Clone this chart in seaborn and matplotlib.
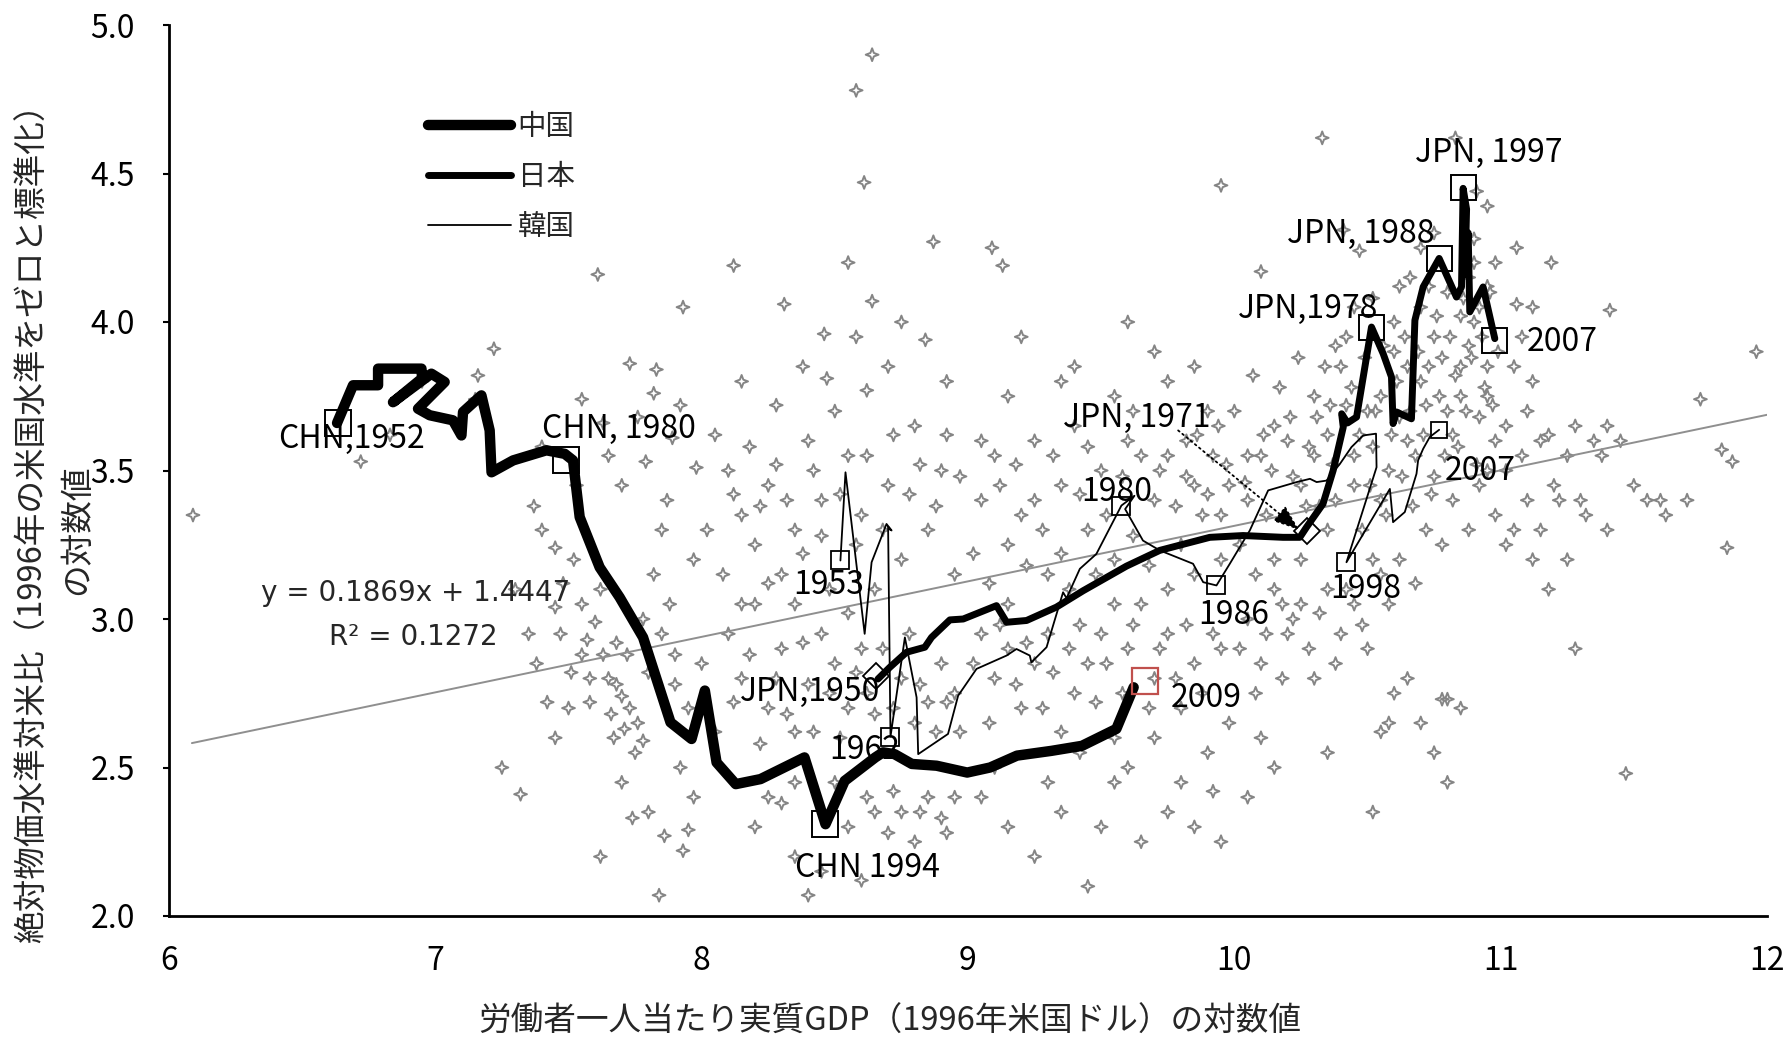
import numpy as np
import pandas as pd
import seaborn as sns
import matplotlib
matplotlib.use("Agg")
import matplotlib.pyplot as plt
from matplotlib.path import Path

sns.set_theme(style="white")
plt.rcParams['font.family'] = ['Noto Sans CJK JP', 'DejaVu Sans']

# ---- country paths (log real GDP per worker, log relative price level) ----
chn_x = [6.631, 6.691, 6.785, 6.785, 6.948, 6.950, 6.841, 6.985, 7.035, 6.935, 6.979,
         7.066, 7.098, 7.104, 7.173, 7.204, 7.211, 7.292, 7.417, 7.486, 7.517, 7.542,
         7.617, 7.692, 7.780, 7.883, 7.962, 8.012, 8.056, 8.128, 8.221, 8.386, 8.465,
         8.537, 8.652, 8.681, 8.724, 8.789, 8.882, 8.997, 9.083, 9.184, 9.313, 9.428,
         9.557, 9.622]
chn_y = [3.660, 3.787, 3.787, 3.843, 3.843, 3.810, 3.730, 3.826, 3.798, 3.708, 3.686,
         3.669, 3.618, 3.697, 3.753, 3.635, 3.494, 3.534, 3.568, 3.556, 3.534, 3.343,
         3.174, 3.073, 2.938, 2.652, 2.596, 2.759, 2.517, 2.444, 2.461, 2.534, 2.309,
         2.455, 2.534, 2.551, 2.545, 2.512, 2.506, 2.483, 2.500, 2.540, 2.556, 2.573,
         2.630, 2.770]

jpn_x = [8.662, 8.706, 8.769, 8.838, 8.863, 8.932, 8.982, 9.107, 9.145, 9.220, 9.332,
         9.432, 9.595, 9.720, 9.908, 10.033, 10.183, 10.246, 10.271, 10.333, 10.371,
         10.409, 10.403, 10.425, 10.459, 10.515, 10.559, 10.590, 10.596, 10.609, 10.665,
         10.678, 10.709, 10.769, 10.834, 10.853, 10.859, 10.872, 10.866, 10.878, 10.884,
         10.934, 10.978]
jpn_y = [2.798, 2.837, 2.888, 2.905, 2.938, 2.997, 3.000, 3.045, 2.989, 2.995, 3.040,
         3.095, 3.178, 3.231, 3.275, 3.281, 3.275, 3.275, 3.309, 3.388, 3.500,
         3.646, 3.691, 3.660, 3.680, 3.983, 3.893, 3.815, 3.658, 3.697, 3.674,
         4.006, 4.118, 4.214, 4.084, 4.118, 4.450, 4.380, 4.160, 4.300, 4.034,
         4.118, 3.944]

kor_x = [8.521, 8.540, 8.612, 8.638, 8.694, 8.713, 8.700, 8.709, 8.763, 8.807, 8.813,
         8.925, 8.963, 9.032, 9.145, 9.182, 9.232, 9.238, 9.295, 9.357, 9.370, 9.420,
         9.482, 9.576, 9.625, 9.590, 9.657, 9.720, 9.845, 9.883, 9.933, 9.983, 10.058,
         10.127, 10.234, 10.284, 10.309, 10.346, 10.397, 10.440, 10.484, 10.532, 10.534,
         10.421, 10.584, 10.596, 10.640, 10.684, 10.690, 10.709, 10.734, 10.769]
kor_y = [3.197, 3.494, 2.950, 3.191, 3.320, 3.298, 3.310, 2.604, 2.938, 2.736, 2.545,
         2.613, 2.742, 2.832, 2.877, 2.899, 2.877, 2.854, 2.905, 3.090, 3.070, 3.169,
         3.219, 3.382, 3.415, 3.370, 3.264, 3.231, 3.186, 3.124, 3.113, 3.186, 3.298,
         3.433, 3.461, 3.472, 3.461, 3.466, 3.523, 3.579, 3.618, 3.624, 3.511,
         3.191, 3.438, 3.326, 3.360, 3.489, 3.534, 3.573, 3.613, 3.637]

# ---- all-country observations, grouped by income band ----
low_x = [6.09, 6.72, 6.83, 7.22, 7.15, 7.16, 6.95, 7.40, 7.37, 7.45, 7.45, 7.47, 7.51,
         7.55, 7.60, 7.63, 7.57, 7.68, 7.70, 7.73, 7.76, 7.71, 7.78, 7.62, 7.74, 7.84,
         7.86, 7.93, 7.95, 7.25, 7.32, 7.73, 7.83, 7.82, 7.55, 7.63, 7.76, 7.70, 7.79,
         7.89, 7.98, 7.61, 7.93, 7.78, 7.85, 7.68, 7.58, 7.50, 7.66, 7.45, 7.90, 7.95,
         7.30, 7.35, 7.38, 7.42, 7.48, 7.52, 7.55, 7.58, 7.62, 7.65, 7.67, 7.72, 7.75,
         7.80, 7.82, 7.85, 7.88, 7.90, 7.92, 7.97, 7.97, 7.40, 7.53, 7.65, 7.87, 7.92,
         7.80, 7.70]
low_y = [3.35, 3.53, 3.62, 3.91, 3.74, 3.82, 3.80, 3.30, 3.38, 3.24, 3.04, 2.95, 2.82,
         3.05, 2.99, 2.88, 2.93, 2.78, 2.74, 2.70, 2.65, 2.63, 2.59, 2.20, 2.33, 2.07,
         2.27, 2.22, 2.29, 2.50, 2.41, 3.86, 3.84, 3.76, 3.74, 3.66, 3.68, 3.45, 3.53,
         3.61, 3.51, 4.16, 4.05, 3.00, 2.95, 2.92, 2.80, 2.70, 2.68, 2.60, 2.88, 2.70,
         3.10, 2.95, 2.85, 2.72, 3.12, 3.20, 2.88, 2.72, 3.10, 2.80, 2.60, 2.88, 2.55,
         2.82, 3.15, 3.30, 3.05, 2.78, 2.50, 3.20, 2.40, 3.58, 3.45, 3.55, 3.40, 3.72,
         2.35, 2.45]

mid_x = [8.00, 8.12, 8.31, 8.10, 8.15, 8.20, 8.25, 8.30, 8.35, 8.40, 8.45, 8.50, 8.55,
         8.60, 8.65, 8.70, 8.75, 8.80, 8.85, 8.90, 8.95, 8.62, 8.47, 8.58, 8.64, 8.84,
         8.46, 8.55, 8.61, 8.58, 8.64, 8.87, 9.09, 9.13, 8.10, 8.15, 8.20, 8.25, 8.30,
         8.35, 8.40, 8.45, 8.50, 8.55, 8.60, 8.65, 8.75, 8.80, 8.85, 8.90, 8.95, 8.20,
         8.25, 8.35, 8.45, 8.40, 8.55, 8.65, 8.70, 8.75, 8.80, 8.85, 8.90, 8.95, 8.60,
         8.35, 8.02, 8.05, 8.08, 8.12, 8.15, 8.18, 8.22, 8.25, 8.28, 8.32, 8.35, 8.38,
         8.42, 8.45, 8.48, 8.52, 8.55, 8.58, 8.62, 8.68, 8.72, 8.78, 8.82, 8.88, 8.92,
         8.97, 8.05, 8.12, 8.18, 8.22, 8.28, 8.32, 8.38, 8.42, 8.48, 8.52, 8.58, 8.62,
         8.68, 8.72, 8.78, 8.82, 8.88, 8.92, 8.97, 8.30, 8.50, 8.62, 8.72, 8.82, 8.92,
         8.15, 8.28, 8.38, 8.70, 8.92, 8.75]
mid_y = [2.85, 4.19, 4.06, 3.50, 3.35, 3.25, 3.45, 3.15, 3.30, 3.60, 3.40, 3.70, 3.55,
         3.35, 3.10, 3.45, 3.20, 3.65, 3.30, 3.50, 3.15, 3.77, 3.81, 3.95, 4.07, 3.94,
         3.96, 4.20, 4.47, 4.78, 4.90, 4.27, 4.25, 4.19, 2.95, 2.80, 3.05, 2.70, 2.90,
         2.62, 2.78, 2.95, 2.85, 2.70, 2.90, 2.68, 2.80, 2.65, 2.72, 2.85, 2.75, 2.30,
         2.40, 2.20, 2.15, 2.07, 2.30, 2.35, 2.28, 2.35, 2.25, 2.40, 2.33, 2.40, 2.12,
         2.45, 3.30, 3.62, 3.15, 3.42, 3.05, 3.58, 3.38, 3.12, 3.52, 3.40, 3.05, 3.22,
         3.50, 3.28, 3.10, 3.42, 3.02, 3.25, 3.55, 3.30, 3.62, 3.42, 3.52, 3.38, 3.62,
         3.48, 2.62, 2.72, 2.88, 2.58, 2.80, 2.68, 2.92, 2.62, 2.75, 2.60, 2.82, 2.75,
         2.90, 2.70, 2.95, 2.78, 2.62, 2.72, 2.62, 2.38, 2.45, 2.40, 2.42, 2.35, 2.28,
         3.80, 3.72, 3.85, 3.85, 3.80, 4.00]

upper_x = [9.05, 9.10, 9.15, 9.20, 9.25, 9.30, 9.35, 9.40, 9.45, 9.50, 9.55, 9.60, 9.65,
           9.70, 9.75, 9.80, 9.85, 9.90, 9.95, 9.05, 9.10, 9.15, 9.20, 9.25, 9.30, 9.40,
           9.45, 9.50, 9.55, 9.60, 9.70, 9.75, 9.80, 9.85, 9.90, 9.95, 9.05, 9.15, 9.25,
           9.35, 9.45, 9.50, 9.55, 9.65, 9.75, 9.85, 9.95, 9.95, 9.40, 9.20, 9.60, 9.75,
           9.02, 9.05, 9.08, 9.12, 9.15, 9.18, 9.22, 9.25, 9.28, 9.32, 9.35, 9.38, 9.42,
           9.45, 9.48, 9.52, 9.55, 9.58, 9.62, 9.65, 9.68, 9.72, 9.75, 9.78, 9.82, 9.85,
           9.88, 9.92, 9.95, 9.98, 9.02, 9.08, 9.12, 9.18, 9.22, 9.28, 9.32, 9.35, 9.38,
           9.42, 9.48, 9.52, 9.58, 9.62, 9.68, 9.72, 9.78, 9.82, 9.88, 9.92, 9.98, 9.10,
           9.30, 9.42, 9.60, 9.70, 9.80, 9.92, 9.35, 9.55, 9.70, 9.85, 9.15, 9.62,
           9.82, 9.86, 9.90, 9.94, 9.97]
upper_y = [3.40, 3.55, 3.25, 3.35, 3.60, 3.15, 3.45, 3.65, 3.30, 3.50, 3.20, 3.60, 3.05,
           3.40, 3.55, 3.25, 3.45, 3.70, 3.35, 2.95, 2.80, 2.90, 2.70, 2.85, 2.95, 2.75,
           2.85, 2.95, 2.60, 2.90, 2.80, 2.95, 2.70, 2.85, 2.55, 2.90, 2.40, 2.30, 2.20,
           2.35, 2.10, 2.30, 2.45, 2.25, 2.35, 2.30, 2.25, 4.46, 3.85, 3.95, 4.00, 3.80,
           3.22, 3.60, 3.12, 3.45, 3.05, 3.52, 3.18, 3.40, 3.30, 3.55, 3.22, 3.10, 3.42,
           3.58, 3.15, 3.35, 3.05, 3.48, 3.28, 3.55, 3.18, 3.50, 3.10, 3.38, 3.60, 3.15,
           3.35, 3.55, 3.20, 3.45, 2.85, 2.65, 2.98, 2.78, 2.92, 2.70, 2.82, 2.62, 2.90,
           2.98, 2.72, 2.85, 2.75, 2.98, 2.70, 2.90, 2.80, 2.98, 2.75, 2.95, 2.65, 2.50,
           2.45, 2.55, 2.50, 2.60, 2.45, 2.42, 3.80, 3.75, 3.90, 3.85, 3.75, 3.70,
           3.48, 3.62, 3.42, 3.65, 3.52]

high_x = [10.05, 10.10, 10.15, 10.20, 10.25, 10.30, 10.35, 10.40, 10.45, 10.50, 10.55,
          10.60, 10.65, 10.70, 10.75, 10.80, 10.85, 10.90, 10.95, 10.05, 10.10, 10.15,
          10.20, 10.25, 10.30, 10.35, 10.40, 10.45, 10.50, 10.55, 10.60, 10.65, 10.70,
          10.75, 10.80, 10.85, 10.10, 10.05, 10.33, 10.83, 10.41, 10.10, 10.47, 10.91,
          10.95, 10.62, 10.70, 10.88, 10.92,
          10.02, 10.05, 10.08, 10.12, 10.15, 10.18, 10.22, 10.25, 10.28, 10.32, 10.35,
          10.38, 10.42, 10.45, 10.48, 10.52, 10.55, 10.58, 10.62, 10.65, 10.68, 10.72,
          10.75, 10.78, 10.82, 10.85, 10.88, 10.92, 10.95, 10.98, 10.70, 10.80, 10.60,
          10.52, 10.85, 10.95, 10.90, 10.75, 10.02, 10.08, 10.12, 10.18, 10.22, 10.28,
          10.32, 10.38, 10.42, 10.48, 10.52, 10.58, 10.62, 10.68, 10.72, 10.78, 10.82,
          10.88, 10.92, 10.98, 10.55, 10.58, 10.52, 10.35, 10.15, 10.78, 10.80, 10.95,
          10.42, 10.44, 10.47, 10.49, 10.51, 10.53, 10.56, 10.57, 10.59, 10.61, 10.63,
          10.64, 10.66, 10.67, 10.69, 10.71, 10.73, 10.74, 10.76, 10.77, 10.79, 10.81,
          10.83, 10.84, 10.86, 10.87, 10.89, 10.91, 10.93, 10.94, 10.96, 10.97, 10.99,
          10.66, 10.73, 10.90, 10.98, 10.45, 10.38, 10.30, 10.00, 10.04, 10.07, 10.11,
          10.14, 10.17, 10.21, 10.24, 10.27, 10.31, 10.34, 10.37, 10.36]
high_y = [3.40, 3.55, 3.20, 3.60, 3.45, 3.75, 3.30, 3.85, 3.55, 3.70, 3.40, 3.90, 3.60,
          3.80, 3.95, 3.70, 3.85, 4.00, 3.75, 3.00, 2.85, 3.10, 2.95, 3.05, 2.80, 3.10,
          2.95, 3.05, 2.90, 3.15, 2.75, 2.80, 2.65, 2.55, 2.45, 2.70, 2.60, 2.40, 4.62,
          4.62, 4.31, 4.17, 4.24, 4.44, 4.39, 4.12, 4.25, 4.15, 4.05,
          3.25, 3.55, 3.15, 3.35, 3.65, 3.05, 3.48, 3.20, 3.58, 3.38, 3.62, 3.40, 3.72,
          3.45, 3.30, 3.58, 3.75, 3.50, 3.68, 3.85, 3.55, 3.72, 3.48, 3.88, 3.62, 3.75,
          3.92, 3.68, 3.85, 3.60, 4.05, 4.10, 4.00, 4.08, 4.02, 4.12, 4.20, 4.30, 2.90,
          2.75, 2.95, 2.80, 3.00, 2.90, 3.02, 2.85, 3.10, 2.98, 3.20, 3.05, 3.20, 3.12,
          3.30, 3.25, 3.40, 3.30, 3.45, 3.35, 2.62, 2.65, 2.35, 2.55, 2.50, 2.73, 2.73,
          3.50,
          3.95, 3.78, 3.62, 3.88, 3.45, 3.70, 3.92, 3.35, 3.62, 3.80, 3.48, 3.95, 3.70,
          3.38, 3.90, 3.62, 3.85, 3.42, 4.02, 3.75, 3.55, 3.95, 3.82, 3.58, 4.08, 3.70,
          3.88, 3.52, 3.95, 3.78, 4.10, 3.72, 3.90, 4.15, 4.12, 4.28, 4.20, 4.05, 3.92,
          3.55, 3.70, 3.46, 3.82, 3.62, 3.50, 3.78, 3.68, 3.88, 3.38, 3.68, 3.85, 3.52,
          3.72]

top_x = [11.06, 11.19, 11.06, 11.41, 11.05, 11.10, 11.15, 11.20, 11.25, 11.30, 11.35,
         11.40, 11.50, 11.60, 11.75, 11.83, 11.87, 11.96, 11.85, 11.47, 11.28, 11.05,
         11.12, 11.02, 11.08, 11.02, 11.08, 11.12, 11.18, 11.22, 11.28, 11.32, 11.38,
         11.45, 11.55, 11.62, 11.70, 11.02, 11.10, 11.15, 11.25, 11.18, 11.40, 11.12]
top_y = [4.25, 4.20, 4.06, 4.04, 3.85, 3.70, 3.60, 3.45, 3.55, 3.40, 3.60, 3.30, 3.45,
         3.40, 3.74, 3.57, 3.53, 3.90, 3.24, 2.48, 2.90, 3.30, 3.20, 3.50, 3.95, 3.65,
         3.55, 3.80, 3.62, 3.40, 3.65, 3.35, 3.55, 3.60, 3.40, 3.35, 3.40, 3.25, 3.40,
         3.30, 3.20, 3.10, 3.65, 4.05]

# ---- labelled observations ----
chn_mark_x = [6.636, 7.492, 8.464]
chn_mark_y = [3.659, 3.537, 2.309]
chn_last_x, chn_last_y = [9.665], [2.790]
jpn_mark_x = [10.515, 10.769, 10.857, 10.976]
jpn_mark_y = [3.983, 4.216, 4.453, 3.941]
jpn_diam_x = [8.656, 10.273]
jpn_diam_y = [2.809, 3.295]
kor_mark_x = [8.521, 8.709, 9.576, 9.933, 10.421]
kor_mark_y = [3.197, 2.604, 3.382, 3.113, 3.191]
kor_last_x, kor_last_y = [10.769], [3.637]

# ---- OLS fit stated on the chart ----
slope, intercept, r2 = 0.1869, 1.4447, 0.1272
fit_x = np.array([6.086, 12.0])

fig = plt.figure(figsize=(17.87, 10.48), dpi=100)
ax = fig.add_axes([169 / 1787, 1 - 916 / 1048, 1598 / 1787, 891 / 1048])

# four-point star marker for the cloud
star = Path([(0, 1), (0.27, 0.27), (1, 0), (0.27, -0.27), (0, -1), (-0.27, -0.27),
             (-1, 0), (-0.27, 0.27), (0, 1)],
            [Path.MOVETO] + [Path.LINETO] * 7 + [Path.CLOSEPOLY])

cloud = pd.DataFrame({"x": low_x + mid_x + upper_x + high_x + top_x,
                      "y": low_y + mid_y + upper_y + high_y + top_y})
sns.scatterplot(data=cloud, x="x", y="y", marker=star, s=85, ax=ax, zorder=1,
                facecolor="none", edgecolor="#858585", linewidth=1.4, legend=False)
ax.collections[-1].set_facecolor("none")
ax.collections[-1].set_edgecolor("#858585")

ax.plot(fit_x, slope * fit_x + intercept, color="#8f8f8f", lw=1.4, zorder=2)

common = dict(sort=False, estimator=None, color="black", ax=ax, zorder=4,
              solid_capstyle="round", solid_joinstyle="round")
sns.lineplot(x=chn_x, y=chn_y, lw=7.5, label="中国", **common)
sns.lineplot(x=jpn_x, y=jpn_y, lw=5.0, label="日本", **common)
sns.lineplot(x=kor_x, y=kor_y, lw=1.3, label="韓国", **common)

box = dict(ls="none", mfc="none", zorder=5)
ax.plot(chn_mark_x, chn_mark_y, marker="s", ms=19, mec="black", mew=1.4, **box)
ax.plot(chn_last_x, chn_last_y, marker="s", ms=19, mec="#c0504d", mew=1.6, **box)
ax.plot(jpn_mark_x, jpn_mark_y, marker="s", ms=18, mec="black", mew=1.4, **box)
ax.plot(jpn_diam_x, jpn_diam_y, marker="D", ms=13, mec="black", mew=1.3, **box)
ax.plot(kor_mark_x, kor_mark_y, marker="s", ms=13, mec="black", mew=1.3, **box)
ax.plot(kor_last_x, kor_last_y, marker="s", ms=12, mec="black", mew=1.3, **box)

fs = 23
labels = [
    (6.410, 3.605, "CHN,1952"), (7.401, 3.640, "CHN, 1980"), (8.350, 2.160, "CHN 1994"),
    (9.760, 2.733, "2009"), (8.142, 2.756, "JPN,1950"), (8.480, 2.560, "1962"),
    (8.343, 3.113, "1953"), (9.426, 3.427, "1980"), (9.864, 3.012, "1986"),
    (10.359, 3.101, "1998"), (10.790, 3.497, "2007"), (11.097, 3.933, "2007"),
    (10.014, 4.045, "JPN,1978"), (10.196, 4.295, "JPN, 1988"), (10.680, 4.568, "JPN, 1997"),
    (9.357, 3.677, "JPN, 1971"),
]
for lx, ly, txt in labels:
    ax.text(lx, ly, txt, ha="left", va="center", fontsize=fs, color="black", zorder=6)

ax.annotate("", xy=(10.243, 3.300), xytext=(9.789, 3.635),
            arrowprops=dict(arrowstyle="-|>,head_length=0.8,head_width=0.3",
                            linestyle=(0, (1, 2)), color="black", lw=1.3,
                            shrinkA=0, shrinkB=0, mutation_scale=20), zorder=6)

ax.text(6.926, 3.086, f"y = {slope}x + {intercept}", ha="center", va="center",
        fontsize=20, family="DejaVu Sans", zorder=6)
ax.text(6.919, 2.941, f"R² = {r2}", ha="center", va="center",
        fontsize=20, family="DejaVu Sans", zorder=6)

ax.set_xlim(6, 12)
ax.set_ylim(2, 5)
ax.set_xticks(range(6, 13))
ax.set_yticks(np.arange(2.0, 5.01, 0.5))
ax.set_yticklabels([f"{v:.1f}" for v in np.arange(2.0, 5.01, 0.5)])
ax.set_xlabel("")
ax.set_ylabel("")
ax.tick_params(axis="x", direction="in", length=6.5, width=1.5, pad=21,
               labelsize=fs, colors="black")
ax.tick_params(axis="y", direction="out", length=4.5, width=1.5, pad=20,
               labelsize=fs, colors="black", left=True)
for side in ("top", "right"):
    ax.spines[side].set_visible(False)
for side in ("left", "bottom"):
    ax.spines[side].set_color("black")
    ax.spines[side].set_linewidth(2.0)

handles, names = ax.get_legend_handles_labels()
ax.legend(handles, names, loc="upper left", bbox_to_anchor=(0.2395, 0.893),
          bbox_transform=fig.transFigure, frameon=False, fontsize=20.5,
          handlelength=2.9, handletextpad=0.25, labelspacing=0.70, borderpad=0,
          borderaxespad=0)

fig.text(33 / 1787, 1 - 515 / 1048, "絶対物価水準対米比（1996年の米国水準をゼロと標準化）",
         rotation=90, ha="center", va="center", fontsize=23.5)
fig.text(77 / 1787, 1 - 530 / 1048, "の対数値", rotation=90, ha="center", va="center",
         fontsize=23.5)
fig.text(890 / 1787, 1 - 1022 / 1048, "労働者一人当たり実質GDP（1996年米国ドル）の対数値",
         ha="center", va="center", fontsize=23.5)

fig.savefig("out.png", dpi=100, facecolor="white")
